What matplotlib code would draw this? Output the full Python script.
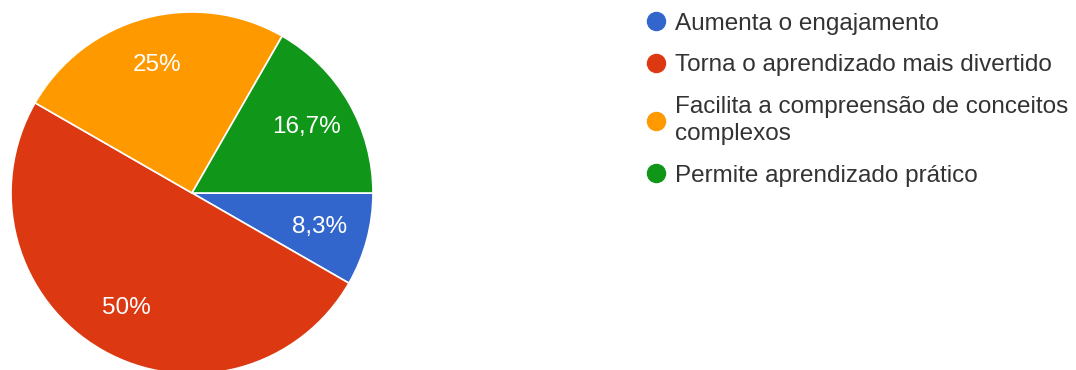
import matplotlib.pyplot as plt
from matplotlib.lines import Line2D

plt.rcParams['font.family'] = ['Liberation Sans', 'DejaVu Sans']

# survey answers (share of respondents, %)
categories = [
    'Aumenta o engajamento',
    'Torna o aprendizado mais divertido',
    'Facilita a compreensão de conceitos\ncomplexos',
    'Permite aprendizado prático',
]
shares = [8.3, 50, 25, 16.7]
colors = ['#3366cc', '#dc3912', '#ff9900', '#109618']


def pct_label(pct):
    return f'{round(pct, 1):g}%'.replace('.', ',')


W, H = 1076, 370
fig = plt.figure(figsize=(W / 100, H / 100), dpi=100)

# pie axes: centre (192, 193) px, radius 181 px
cx, cy, r = 192, 193, 181
ax = fig.add_axes([(cx - r) / W, (H - cy - r) / H, 2 * r / W, 2 * r / H])
wedges, texts, autotexts = ax.pie(
    shares, colors=colors, startangle=0, counterclock=False,
    autopct=pct_label, pctdistance=0.73,
    wedgeprops=dict(edgecolor='white', linewidth=1.2),
    textprops=dict(color='white', fontsize=17.5))
ax.set_xlim(-1, 1)
ax.set_ylim(-1, 1)
ax.set_aspect('equal')

handles = [Line2D([], [], marker='o', ls='', markersize=13, color=c) for c in colors]
leg = fig.legend(handles, categories, loc='upper left',
                 bbox_to_anchor=(622 / W, 1 + 9 / H),
                 frameon=False, fontsize=17.5, labelcolor='#333333',
                 handletextpad=0.3, labelspacing=0.8, handlelength=1.0)
for t in leg.get_texts():
    t.set_linespacing(1.32)

fig.savefig('out.png', dpi=100, facecolor='white')
